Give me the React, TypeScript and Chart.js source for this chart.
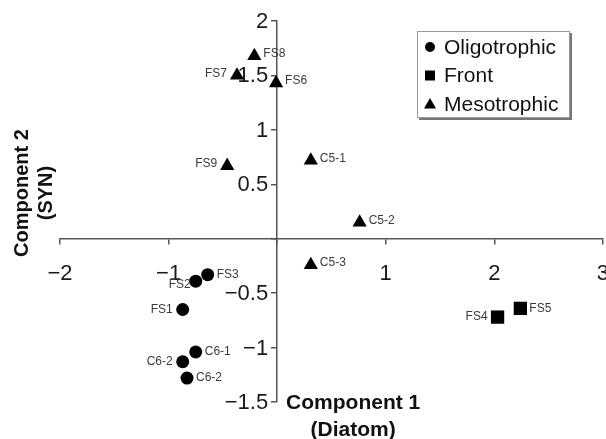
import React, { useEffect, useRef } from 'react';
import { Chart, registerables } from 'chart.js';

Chart.register(...registerables);

// ---- Data ----
const oligoLabels = ['FS1', 'FS2', 'FS3', 'C6-1', 'C6-2', 'C6-2'];
const oligoX = [-0.87, -0.75, -0.64, -0.75, -0.87, -0.83];
const oligoY = [-0.65, -0.39, -0.33, -1.04, -1.13, -1.28];
const oligoSides = ['left', 'belowleft', 'right', 'right', 'left', 'right'];

const frontLabels = ['FS4', 'FS5'];
const frontX = [2.03, 2.24];
const frontY = [-0.72, -0.64];
const frontSides = ['left', 'right'];

const mesoLabels = ['FS6', 'FS7', 'FS8', 'FS9', 'C5-1', 'C5-2', 'C5-3'];
const mesoX = [-0.01, -0.37, -0.21, -0.46, 0.31, 0.76, 0.31];
const mesoY = [1.43, 1.5, 1.68, 0.67, 0.72, 0.15, -0.24];
const mesoSides = ['right', 'left', 'right', 'left', 'right', 'right', 'right'];

const seriesNames = ['Oligotrophic', 'Front', 'Mesotrophic'];
const xTitle = ['Component 1', '(Diatom)'];
const yTitle = ['Component 2', '(SYN)'];

const xMin = -2, xMax = 3, xStep = 1;
const yMin = -1.5, yMax = 2, yStep = 0.5;

const FONT = '"Liberation Sans", Arial, Helvetica, sans-serif';

function fmt(v: number | string) {
  const n = Number(v);
  if (n === 0) return '';
  return n < 0 ? '\u2212' + Math.abs(n) : String(n);
}

function pts(xs: number[], ys: number[]) {
  return xs.map((x, i) => ({ x, y: ys[i] }));
}

const pointLabelPlugin = {
  id: 'pointLabels',
  afterDatasetsDraw(chart: any) {
    const ctx = chart.ctx;
    ctx.save();
    ctx.font = '12px ' + FONT;
    ctx.fillStyle = '#3a3a3a';
    ctx.textBaseline = 'middle';
    chart.data.datasets.forEach((ds: any, i: number) => {
      const meta = chart.getDatasetMeta(i);
      meta.data.forEach((el: any, j: number) => {
        const text = ds.pointLabels[j];
        const side = ds.labelSides[j];
        const dy = ds.labelDy || 0;
        if (side === 'right') {
          ctx.textAlign = 'left';
          ctx.fillText(text, el.x + 9, el.y + dy);
        } else if (side === 'left') {
          ctx.textAlign = 'right';
          ctx.fillText(text, el.x - 10, el.y + dy);
        } else {
          ctx.textAlign = 'right';
          ctx.fillText(text, el.x - 5, el.y + 4 + dy);
        }
      });
    });
    ctx.restore();
  },
};

const yTickLabelPlugin = {
  id: 'yTickLabels',
  afterDraw(chart: any) {
    const ctx = chart.ctx;
    const ys = chart.scales.y;
    const axisX = chart.scales.x.getPixelForValue(0);
    ctx.save();
    ctx.font = '22px ' + FONT;
    ctx.fillStyle = '#1a1a1a';
    ctx.textAlign = 'right';
    ctx.textBaseline = 'middle';
    ys.ticks.forEach((t: any) => {
      const s = fmt(t.value);
      if (!s) return;
      ctx.fillText(s, axisX - 9, ys.getPixelForValue(t.value) + 1);
    });
    ctx.restore();
  },
};

const titlesPlugin = {
  id: 'axisTitles',
  afterDraw(chart: any) {
    const ctx = chart.ctx;
    const xs = chart.scales.x;
    const ys = chart.scales.y;
    ctx.save();
    ctx.fillStyle = '#111';
    ctx.font = 'bold 21px ' + FONT;
    ctx.textAlign = 'center';
    ctx.textBaseline = 'middle';
    const cx = xs.getPixelForValue(0.7);
    const by = ys.getPixelForValue(yMin);
    ctx.fillText(xTitle[0], cx, by + 1);
    ctx.fillText(xTitle[1], cx, by + 28);
    ctx.font = 'bold 20px ' + FONT;
    const cy = ys.getPixelForValue(0.42);
    ctx.translate(22, cy);
    ctx.rotate(-Math.PI / 2);
    ctx.fillText(yTitle[0], 0, 0);
    ctx.fillText(yTitle[1], 0, 24);
    ctx.restore();
  },
};

const legendPlugin = {
  id: 'boxLegend',
  afterDraw(chart: any) {
    const ctx = chart.ctx;
    const left = 417, top = 31, w = 153, h = 87;
    ctx.save();
    ctx.fillStyle = '#777';
    ctx.fillRect(left + 2, top + 2, w, h);
    ctx.fillStyle = '#fff';
    ctx.fillRect(left, top, w, h);
    ctx.strokeStyle = '#999';
    ctx.lineWidth = 1;
    ctx.strokeRect(left + 0.5, top + 0.5, w - 1, h - 1);
    ctx.font = '21px ' + FONT;
    ctx.textAlign = 'left';
    ctx.textBaseline = 'middle';
    chart.data.datasets.forEach((ds: any, i: number) => {
      const y = top + 16 + i * 28.5;
      const mx = left + 13;
      ctx.fillStyle = '#000';
      ctx.beginPath();
      if (ds.pointStyle === 'circle') {
        ctx.arc(mx, y, 5, 0, Math.PI * 2);
      } else if (ds.pointStyle === 'rect') {
        ctx.rect(mx - 5, y - 5, 10, 10);
      } else {
        ctx.moveTo(mx, y - 6);
        ctx.lineTo(mx + 6, y + 4.5);
        ctx.lineTo(mx - 6, y + 4.5);
        ctx.closePath();
      }
      ctx.fill();
      ctx.fillStyle = '#111';
      ctx.fillText(ds.label, left + 27, y + 1);
    });
    ctx.restore();
  },
};

export default function App() {
  const ref = useRef<HTMLCanvasElement | null>(null);

  useEffect(() => {
    if (!ref.current) return;
    const axisColor = '#555';
    const chart = new Chart(ref.current, {
      type: 'scatter',
      data: {
        datasets: [
          {
            label: seriesNames[0],
            data: pts(oligoX, oligoY),
            pointStyle: 'circle',
            pointRadius: 6.5,
            backgroundColor: '#000',
            borderColor: '#000',
            borderWidth: 0,
            pointLabels: oligoLabels,
            labelSides: oligoSides,
          } as any,
          {
            label: seriesNames[1],
            data: pts(frontX, frontY),
            pointStyle: 'rect',
            pointRadius: 9.4,
            backgroundColor: '#000',
            borderColor: '#000',
            borderWidth: 0,
            pointLabels: frontLabels,
            labelSides: frontSides,
          } as any,
          {
            label: seriesNames[2],
            data: pts(mesoX, mesoY),
            pointStyle: 'triangle',
            pointRadius: 8.2,
            backgroundColor: '#000',
            borderColor: '#000',
            borderWidth: 0,
            pointLabels: mesoLabels,
            labelSides: mesoSides,
            labelDy: -2,
          } as any,
        ],
      },
      options: {
        animation: false,
        responsive: false,
        devicePixelRatio: 1,
        layout: { padding: { left: 60, right: 9, top: 21, bottom: 37 } },
        plugins: {
          legend: { display: false },
          tooltip: { enabled: false },
        },
        scales: {
          x: {
            type: 'linear',
            min: xMin,
            max: xMax,
            position: { y: 0 } as any,
            ticks: {
              stepSize: xStep,
              callback: fmt,
              font: { size: 22, family: FONT },
              color: '#1a1a1a',
              padding: 17,
              maxRotation: 0,
              autoSkip: false,
            },
            grid: { drawOnChartArea: false, tickLength: 5, color: axisColor, lineWidth: 1.5 },
            border: { color: axisColor, width: 1.5 },
          },
          y: {
            type: 'linear',
            min: yMin,
            max: yMax,
            position: { x: 0 } as any,
            ticks: {
              stepSize: yStep,
              display: false,
              autoSkip: false,
            },
            grid: { drawOnChartArea: false, tickLength: 5, color: axisColor, lineWidth: 1.5 },
            border: { color: axisColor, width: 1.5 },
          },
        },
      },
      plugins: [pointLabelPlugin, yTickLabelPlugin, titlesPlugin, legendPlugin],
    });
    return () => chart.destroy();
  }, []);

  return (
    <div
      style={{
        position: 'fixed',
        left: 0,
        top: 0,
        width: 606,
        height: 439,
        overflow: 'hidden',
        background: '#fff',
      }}
    >
      <canvas ref={ref} width={626} height={439} style={{ display: 'block' }} />
    </div>
  );
}
